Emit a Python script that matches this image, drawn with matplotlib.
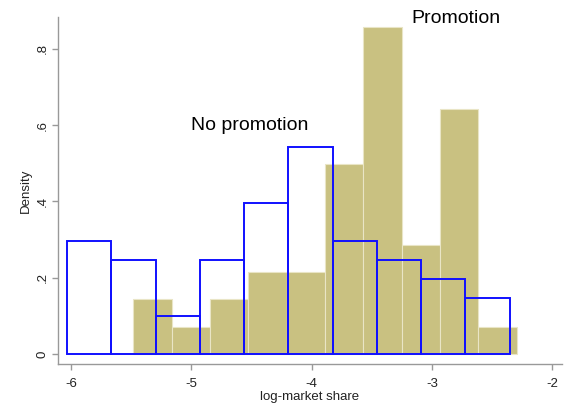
import numpy as np
import matplotlib
matplotlib.use("Agg")
import matplotlib.pyplot as plt

plt.rcParams["font.family"] = ["Liberation Sans", "DejaVu Sans"]

# Densités lues par classe (10 classes par groupe)
promo_start = -5.482
promo_width = 0.3187
promo_density = [0.143, 0.071, 0.143, 0.214, 0.214, 0.499, 0.856, 0.285, 0.642, 0.071]

nopromo_start = -6.033
nopromo_width = 0.368
nopromo_density = [0.296, 0.247, 0.099, 0.247, 0.395, 0.543, 0.296, 0.247, 0.198, 0.148]

x_ticks = [-6, -5, -4, -3, -2]
y_ticks = [0, 0.2, 0.4, 0.6, 0.8]
y_labels = ["0", ".2", ".4", ".6", ".8"]

fig = plt.figure(figsize=(5.76, 4.17), dpi=100)
ax = fig.add_axes([0.1007, 0.1271, 0.875, 0.832])

promo_left = promo_start + promo_width * np.arange(len(promo_density))
ax.bar(promo_left, promo_density, width=promo_width, align="edge",
       color="#c9c181", edgecolor="#e9e5c6", linewidth=0.8, zorder=2)

nopromo_left = nopromo_start + nopromo_width * np.arange(len(nopromo_density))
ax.bar(nopromo_left, nopromo_density, width=nopromo_width, align="edge",
       fill=False, edgecolor="#1010ff", linewidth=1.4, zorder=3)

ax.text(-5.0, 0.6, "No promotion", fontsize=14, ha="left", va="center")
ax.text(-3.168, 0.88, "Promotion", fontsize=14, ha="left", va="center",
        clip_on=False)

ax.set_xlim(-6.108, -1.918)
ax.set_ylim(-0.026, 0.883)
ax.set_xticks(x_ticks)
ax.set_xticklabels([str(t) for t in x_ticks])
ax.set_yticks(y_ticks)
ax.set_yticklabels(y_labels, rotation=90, va="center")

for side in ("top", "right"):
    ax.spines[side].set_visible(False)
for side in ("left", "bottom"):
    ax.spines[side].set_color("#999999")
    ax.spines[side].set_linewidth(1.0)
ax.tick_params(colors="#999999", labelcolor="#222222", length=4, width=1,
               labelsize=9.5)
ax.tick_params(axis="x", pad=6)
ax.tick_params(axis="y", pad=3)

ax.set_xlabel("log-market share", fontsize=9.5, color="#222222", labelpad=1)
ax.set_ylabel("Density", fontsize=9.5, color="#222222", labelpad=3)

fig.savefig("out.png", dpi=100)
